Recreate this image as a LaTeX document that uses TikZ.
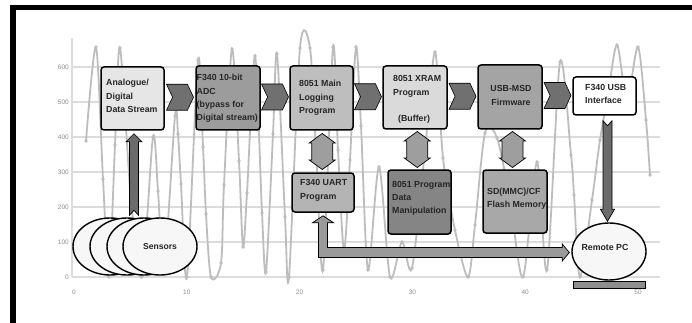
\documentclass[tikz,border=0pt]{standalone}
\usepackage{fontspec}
\setmainfont{Liberation Sans}
\usetikzlibrary{shapes.geometric,shapes.symbols,shapes.arrows,calc}
\definecolor{cA}{HTML}{E6E6E6}
\definecolor{cB}{HTML}{9C9C9C}
\definecolor{cC}{HTML}{BEBEBE}
\definecolor{cD}{HTML}{DADADA}
\definecolor{cE}{HTML}{A4A4A4}
\definecolor{cU}{HTML}{B4B4B4}
\definecolor{cP}{HTML}{858585}
\definecolor{cS}{HTML}{A8A8A8}
\definecolor{chevc}{HTML}{707070}
\definecolor{dblc}{HTML}{9E9E9E}
\definecolor{varrc}{HTML}{6B6B6B}
\definecolor{elbc}{HTML}{9A9A9A}
\definecolor{ellc}{HTML}{F7F7F7}
\definecolor{basec}{HTML}{8E8E8E}
\definecolor{curvec}{HTML}{BDBDBD}
\definecolor{gridc}{HTML}{DCDCDC}
\definecolor{axlc}{HTML}{8C8C8C}
\begin{document}
\begin{tikzpicture}[x=1pt,y=-1pt,
  box/.style={draw=black, line width=1.5pt, rounded corners=3pt, inner sep=0pt},
  txt/.style={font=\bfseries\fontsize{8.8}{13.3}\selectfont, text=black!85, align=left, inner sep=0pt, anchor=west},
  chev/.style={signal, signal to=east, signal from=west, signal pointer angle=130, draw=black, line width=0.6pt, fill=chevc, minimum width=27pt, minimum height=26pt, inner sep=0pt},
  dblarrow/.style={draw=black, line width=0.7pt, fill=dblc},
  sens/.style={ellipse, draw=black, line width=1.4pt, fill=ellc, minimum width=74pt, minimum height=57pt, inner sep=0pt},
  blockarrow/.style={draw=black, line width=0.7pt},
  gridline/.style={draw=gridc, line width=1.2pt},
  ylab/.style={font=\fontsize{6.5}{7}\selectfont, text=axlc, anchor=east, inner sep=0pt},
  xlab/.style={font=\fontsize{6.5}{7}\selectfont, text=axlc, anchor=center, inner sep=0pt},
  curve/.style={draw=curvec, line width=1.8pt}
]
\useasboundingbox (0,0) rectangle (692,323);
\fill[white] (0,0) rectangle (692,323);

% chart background
\foreach \v in {0,100,...,600} {
  \draw[gridline] (72,{277-0.35*\v}) -- (660,{277-0.35*\v});
  \node[ylab] (y\v) at (69,{277-0.35*\v}) {\v};
}
\draw[gridline] (72,38) -- (72,277);
\foreach \x in {0,10,...,50} \node[xlab] (x\x) at ({74+11.28*\x},292) {\x};

\draw[curve] plot[smooth, tension=0.5] coordinates {(86,141) (96,47) (103,179) (109,277) (115,145) (120,48) (131,200) (142,277) (153,137) (158,191) (164,270) (175,116) (178,134) (181,184) (187,277) (198,60) (203,147) (206,214) (211,277) (221,263) (224,185) (232,49) (239,161) (243,247) (247,193) (255,56) (262,213) (266,272) (273,134) (277,54) (285,217) (289,277) (300,48) (310,48) (316,150) (323,270) (333,47) (338,150) (344,250) (350,160) (356,47) (361,126) (368,270) (379,167) (390,277) (402,242) (412,268) (425,150) (435,52) (443,158) (455,230) (468,277) (475,225) (485,133) (497,138) (510,200) (523,277) (537,162) (547,270) (560,62) (571,155) (574,195) (580,277) (592,200) (600,140) (608,95) (617,45) (627,100) (638,47) (646,120) (650,175)};
\foreach \a/\b in {86/141, 96/47, 103/179, 109/277, 115/145, 120/48, 131/200, 142/277, 153/137, 158/191, 164/270, 175/116, 178/134, 181/184, 187/277, 198/60, 203/147, 206/214, 211/277, 221/263, 224/185, 232/49, 239/161, 243/247, 247/193, 255/56, 262/213, 266/272, 273/134, 277/54, 285/217, 289/277, 300/48, 310/48, 316/150, 323/270, 333/47, 338/150, 344/250, 350/160, 356/47, 361/126, 368/270, 379/167, 390/277, 402/242, 412/268, 425/150, 435/52, 443/158, 455/230, 468/277, 475/225, 485/133, 497/138, 510/200, 523/277, 537/162, 547/270, 560/62, 571/155, 574/195, 580/277, 592/200, 600/140, 608/95, 617/45, 627/100, 638/47, 646/120, 650/175}
  \fill[curvec] (\a,\b) circle (1.8pt);

% boxes
\node[box, fill=cA, minimum width=63pt, minimum height=63pt] (b1) at (132.5,98.5) {};
\node[box, fill=cB, minimum width=64pt, minimum height=64pt] (b2) at (228,98) {};
\node[box, fill=cC, minimum width=63pt, minimum height=64pt] (b3) at (321.5,98) {};
\node[box, fill=cD, minimum width=64pt, minimum height=63pt] (b4) at (415,97.5) {};
\node[box, fill=cE, minimum width=64pt, minimum height=64pt] (b5) at (510,97) {};
\node[box, fill=white, minimum width=63pt, minimum height=38pt] (b6) at (604.5,96) {};
\node[box, fill=cU, minimum width=62pt, minimum height=39pt] (uart) at (323,192.5) {};
\node[box, fill=cP, minimum width=63pt, minimum height=64pt] (pdm) at (419.5,202) {};
\node[box, fill=cS, minimum width=64pt, minimum height=63pt] (sd) at (515,201.5) {};

% texts
\node[txt] (t1) at (106,96) {Analogue/\\Digital\\Data Stream};
\node[txt] (t2) at (196.5,98.5) {F340 10-bit\\ADC\\(bypass for\\Digital stream)};
\node[txt] (t3) at (299,98) {8051 Main\\Logging\\Program};
\node[txt] (t4) at (393,99.5) {8051 XRAM\\Program\\[13pt]\hspace*{5pt}(Buffer)};
\node[txt, anchor=center, align=center] (t5) at (511,95.5) {USB-MSD\\Firmware};
\node[txt] (t6) at (585,94) {F340 USB\\Interface};
\node[txt] (tu) at (300,190.5) {F340 UART\\Program};
\node[txt] (tp) at (392,198.5) {8051 Program\\Data\\Manipulation};
\node[txt] (ts) at (487,198.5) {SD(MMC)/CF\\Flash Memory};

% chevrons
\node[chev] (c12) at ($(b1.east)!0.5!(b2.west)+(0,-1)$) {};
\node[chev] (c23) at ($(b2.east)!0.5!(b3.west)+(0,-1)$) {};
\node[chev] (c34) at ($(b3.east)!0.5!(b4.west)+(0,-1)$) {};
\node[chev] (c45) at ($(b4.east)!0.5!(b5.west)+(0,-1)$) {};
\node[chev] (c56) at ($(b5.east)!0.5!(b6.west)+(0,-1)$) {};

% double arrows (hexagonal block arrows)
\coordinate (m3) at ($(b3.south)!0.5!(uart.north)$);
\coordinate (m4) at ($(b4.south)!0.5!(pdm.north)$);
\coordinate (m5) at ($(b5.south)!0.5!(sd.north)$);
\foreach \m in {m3,m4,m5}
  \draw[dblarrow] ($(\m)+(0,-18)$) -- ($(\m)+(13,-8.5)$) -- ($(\m)+(10.5,-8.5)$) -- ($(\m)+(10.5,8.5)$) -- ($(\m)+(13,8.5)$) -- ($(\m)+(0,18)$) -- ($(\m)+(-13,8.5)$) -- ($(\m)+(-10.5,8.5)$) -- ($(\m)+(-10.5,-8.5)$) -- ($(\m)+(-13,-8.5)$) -- cycle;

% sensors
\node[sens] (s1) at (110,246.5) {};
\node[sens] (s2) at (127,246.5) {};
\node[sens] (s3) at (144,246.5) {};
\node[sens, font=\bfseries\fontsize{8.6}{10}\selectfont, text=black!85] (s4) at (160,246.5) {Sensors};

% up arrow sensors -> data stream
\coordinate (u1) at ($(b1.south)+(1.5,3)$);
\coordinate (u2) at ($(u1 |- s3.north)+(0,-2)$);
\draw[blockarrow, fill=varrc] (u1) -- ++(8,8) -- ++(-3.5,0) -- ($(u2)+(4.5,0)$) -- ($(u2)+(0,-5)$) -- ($(u2)+(-4.5,0)$) -- ($(u1)+(-4.5,8)$) -- ++(-3.5,0) -- cycle;

% remote PC
\node[sens] (pc) at (609,251.5) {};
\node[txt, anchor=center] (tpc) at (605,247) {Remote PC};
\node[draw=black, line width=1pt, fill=basec, minimum width=72pt, minimum height=7pt, inner sep=0pt] (pcbase) at (609,284.5) {};

% down arrow USB interface -> remote PC
\coordinate (d1) at ($(b6.south)+(3,5)$);
\coordinate (d2) at ($(d1 |- pc.north)+(0,-1)$);
\draw[blockarrow, fill=varrc] ($(d1)+(-4.5,0)$) -- ($(d1)+(0,5)$) -- ($(d1)+(4.5,0)$) -- ($(d2)+(4.5,-12)$) -- ++(2.5,0) -- (d2) -- ($(d2)+(-7,-12)$) -- ++(2.5,0) -- cycle;

% elbow double arrow UART <-> remote PC
\coordinate (e1) at ($(uart.south)+(0,3)$);
\coordinate (e2) at ($(pc.west)+(-2,1)$);
\draw[blockarrow, fill=elbc] (e1) -- ++(10.5,7) -- ++(-6,0) |- ($(e2)+(-7,-5)$) -- ++(0,-3.5) -- (e2) -- ++(-7,8.5) -- ++(0,-3.5) -| ($(e1)+(-4.5,7)$) -- ++(-6,0) -- cycle;

% frame
\fill[black] (10,5) rectangle (692,10.5);
\fill[black] (10,5) rectangle (15.5,323);
\end{tikzpicture}
\end{document}
